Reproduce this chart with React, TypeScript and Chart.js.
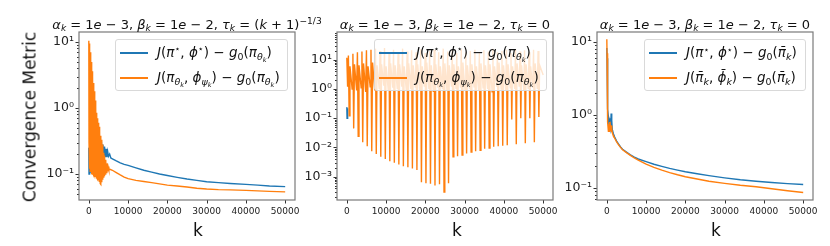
import React, { useEffect, useRef } from 'react';
import { Chart, registerables } from 'chart.js';

Chart.register(...registerables);
Chart.defaults.font.family = "'DejaVu Sans', sans-serif";

const BLUE = '#1f77b4';
const ORANGE = '#ff7f0e';

// ---------- shared x axis ----------
const xTickValues = [0, 10000, 20000, 30000, 40000, 50000];

// ---------- panel 1 : tau_k = (k+1)^(-1/3) ----------
const p1BlueK = [
  0, 50, 100, 150, 200, 250, 300, 400, 500, 600, 700, 800, 900, 1000,
  1200, 1400, 1600, 1800, 2000, 2200, 2400, 2600, 2800, 3000, 3200, 3400,
  3600, 3800, 4000, 4200, 4400, 4600, 4800, 5000, 5300, 5600, 6000, 7000,
  8000, 9000, 10000, 12000, 14000, 16000, 18000, 20000, 22500, 25000,
  27500, 30000, 33000, 36000, 40000, 43000, 46000, 49999,
];
const p1Blue = [
  0.25, 0.1, 0.26, 0.1, 0.22, 0.1, 0.24, 0.11, 0.25, 0.105, 0.24, 0.11, 0.25, 0.11,
  0.26, 0.12, 0.27, 0.12, 0.28, 0.13, 0.29, 0.13, 0.3, 0.15, 0.31, 0.16,
  0.28, 0.17, 0.26, 0.18, 0.24, 0.18, 0.22, 0.185, 0.2, 0.175, 0.17, 0.158,
  0.148, 0.14, 0.135, 0.124, 0.114, 0.107, 0.1, 0.095, 0.089, 0.084,
  0.08, 0.0765, 0.074, 0.072, 0.0697, 0.068, 0.066, 0.0645,
];
const p1OrangeK = [
  0, 50, 100, 150, 200, 250, 300, 350, 400, 450, 500, 550, 600, 650, 700, 750,
  800, 850, 900, 950, 1000, 1100, 1200, 1300, 1400, 1500, 1600, 1700, 1800,
  1900, 2000, 2100, 2200, 2300, 2400, 2500, 2600, 2700, 2800, 2900, 3000,
  3100, 3200, 3300, 3400, 3500, 3600, 3700, 3800, 3900, 4000, 4150, 4300,
  4450, 4600, 4750, 4900, 5100, 5400, 6000, 7000, 8000, 9000, 10000, 12000,
  14000, 16000, 18000, 20000, 22500, 25000, 27500, 30000, 33000, 36000,
  40000, 43000, 46000, 49999,
];
const p1Orange = [
  10.5, 0.3, 9.5, 0.15, 8.8, 0.12, 8.0, 0.11, 7.0, 0.12, 5.5, 0.11, 5.0, 0.1, 4.6, 0.11,
  4.2, 0.1, 3.6, 0.1, 3.0, 0.1, 2.4, 0.095, 1.8, 0.09, 1.3, 0.09, 1.05,
  0.088, 0.85, 0.085, 0.7, 0.082, 0.6, 0.08, 0.52, 0.076, 0.45, 0.072, 0.38,
  0.07, 0.33, 0.075, 0.28, 0.082, 0.24, 0.09, 0.21, 0.095, 0.19, 0.1, 0.165,
  0.105, 0.145, 0.11, 0.13, 0.115, 0.118, 0.114, 0.105, 0.097, 0.09, 0.085, 0.08,
  0.077, 0.074, 0.071, 0.068, 0.066, 0.0635, 0.061, 0.0593, 0.058, 0.0575,
  0.0566, 0.0555, 0.0545, 0.0537,
];
const p1YMin = 0.0404;
const p1YMax = 14.2;
const p1YTicks = [
  0.05, 0.06, 0.07, 0.08, 0.09, 0.1, 0.2, 0.3, 0.4, 0.5, 0.6, 0.7, 0.8, 0.9,
  1, 2, 3, 4, 5, 6, 7, 8, 9, 10,
];
const p1MajorValues = [0.1, 1, 10];
const p1MajorLabels = ['10⁻¹', '10⁰', '10¹'];

// ---------- panel 2 : tau_k = 0 (last iterate) ----------
const p2BlueK = [0, 60, 120, 180, 240, 300];
const p2Blue = [0.24, 0.1, 0.22, 0.11, 0.2, 0.12];
const p2OrangeK = [
  0, 200, 400, 600, 800,
  1350, 1550, 1750, 1950,
  2500, 2700, 2900, 3100,
  3650, 3850, 4050, 4250,
  4800, 5000, 5200, 5400,
  5950, 6150, 6350, 6550,
  7100, 7300, 7500, 7700,
  8250, 8450, 8650, 8850,
  9400, 9600, 9800, 10000,
  10550, 10750, 10950, 11150,
  11700, 11900, 12100, 12300,
  12850, 13050, 13250, 13450,
  14000, 14200, 14400, 14600,
  15150, 15350, 15550, 15750,
  16300, 16500, 16700, 16900,
  17450, 17650, 17850, 18050,
  18600, 18800, 19000, 19200,
  19750, 19950, 20150, 20350,
  20900, 21100, 21300, 21500,
  22050, 22250, 22450, 22650,
  23200, 23400, 23600, 23800,
  24350, 24550, 24750, 24950,
  25500, 25700, 25900, 26100,
  26650, 26850, 27050, 27250,
  27800, 28000, 28200, 28400,
  28950, 29150, 29350, 29550,
  30100, 30300, 30500, 30700,
  31250, 31450, 31650, 31850,
  32400, 32600, 32800, 33000,
  33550, 33750, 33950, 34150,
  34700, 34900, 35100, 35300,
  35850, 36050, 36250, 36450,
  37000, 37200, 37400, 37600,
  38150, 38350, 38550, 38750,
  39300, 39500, 39700, 39900,
  40450, 40650, 40850, 41050,
  41600, 41800, 42000, 42200,
  42750, 42950, 43150, 43350,
  43900, 44100, 44300, 44500,
  45050, 45250, 45450, 45650,
  46200, 46400, 46600, 46800,
  47350, 47550, 47750, 47950,
  48500, 48700, 48900, 49100,
  49999,
];
const p2Orange = [
  11.7, 1.2, 14, 0.12, 6,
  1.0, 16, 0.045, 7,
  0.9, 18, 0.024, 6.5,
  1.1, 19, 0.015, 7.5,
  0.8, 21, 0.011, 6,
  1.2, 22, 0.0075, 8,
  0.9, 24, 0.006, 6.5,
  1.0, 20, 0.0048, 7,
  1.3, 25, 0.004, 6,
  0.9, 18, 0.0034, 7.5,
  1.1, 22, 0.003, 6.5,
  1.0, 17, 0.0026, 7,
  1.2, 24, 0.0023, 6,
  0.9, 19, 0.0021, 7.5,
  1.0, 21, 0.0019, 6.5,
  1.1, 18, 0.0017, 7,
  0.9, 23, 0.00065, 6,
  1.2, 17, 0.0006, 8,
  1.0, 20, 0.00058, 6.5,
  0.8, 22, 0.0005, 7,
  1.1, 18, 0.00055, 6,
  1.0, 24, 0.0003, 7.5,
  0.9, 19, 0.0006, 6.5,
  1.2, 21, 0.0048, 7,
  1.0, 17, 0.005, 6,
  1.1, 23, 0.0055, 8,
  0.9, 18, 0.0062, 6.5,
  1.0, 20, 0.007, 7,
  1.2, 22, 0.0075, 6,
  0.9, 17, 0.008, 7.5,
  1.1, 21, 0.009, 6.5,
  1.0, 19, 0.0095, 7,
  0.8, 24, 0.0105, 6,
  1.2, 18, 0.011, 8,
  1.0, 20, 0.0115, 6.5,
  0.9, 22, 0.012, 7,
  1.1, 17, 0.09, 6,
  1.0, 23, 0.013, 7.5,
  1.2, 19, 0.1, 6.5,
  0.9, 21, 0.014, 7,
  1.0, 18, 0.1, 6,
  1.1, 22, 0.015, 7.5,
  1.0, 20, 0.11, 6.5,
  3,
];
const p2YMin = 1.6e-4;
const p2YMax = 88.9;
const p2YTicks = [
  0.0002, 0.0003, 0.0004, 0.0005, 0.0006, 0.0007, 0.0008, 0.0009,
  0.001, 0.002, 0.003, 0.004, 0.005, 0.006, 0.007, 0.008, 0.009,
  0.01, 0.02, 0.03, 0.04, 0.05, 0.06, 0.07, 0.08, 0.09,
  0.1, 0.2, 0.3, 0.4, 0.5, 0.6, 0.7, 0.8, 0.9,
  1, 2, 3, 4, 5, 6, 7, 8, 9,
  10, 20, 30, 40, 50, 60, 70, 80,
];
const p2MajorValues = [0.001, 0.01, 0.1, 1, 10];
const p2MajorLabels = ['10⁻³', '10⁻²', '10⁻¹', '10⁰', '10¹'];

// ---------- panel 3 : tau_k = 0 (averaged iterate) ----------
const p3K = [
  0, 50, 100, 150, 200, 250, 300, 400, 500, 600, 700, 800, 900, 1000, 1100,
  1200, 1300, 1400, 1500, 1700, 2000, 2500, 3000, 3500, 4000, 5000, 6000,
  7000, 8000, 10000, 12000, 14000, 16000, 18000, 20000, 23000, 26000, 30000,
  34000, 38000, 42000, 46000, 49999,
];
const p3Blue = [
  8.3, 6, 4, 2.8, 2.0, 1.5, 1.2, 0.95, 0.8, 0.7, 0.9, 0.65, 0.85, 0.7, 1.05,
  0.75, 0.85, 0.62, 0.6, 0.55, 0.5, 0.44, 0.4, 0.365, 0.34, 0.31, 0.285,
  0.265, 0.25, 0.23, 0.212, 0.198, 0.186, 0.176, 0.167, 0.157, 0.148, 0.138,
  0.13, 0.124, 0.119, 0.115, 0.112,
];
const p3Orange = [
  10.9, 7, 4, 2.5, 1.6, 1.1, 0.8, 0.6, 0.75, 0.6, 0.8, 0.62, 0.7, 0.6, 0.72,
  0.58, 0.65, 0.57, 0.55, 0.52, 0.48, 0.43, 0.39, 0.36, 0.335, 0.305, 0.28,
  0.258, 0.242, 0.213, 0.192, 0.176, 0.163, 0.152, 0.143, 0.133, 0.124, 0.116,
  0.109, 0.104, 0.098, 0.092, 0.087,
];
const p3YMin = 0.0686;
const p3YMax = 13.7;
const p3YTicks = [
  0.07, 0.08, 0.09, 0.1, 0.2, 0.3, 0.4, 0.5, 0.6, 0.7, 0.8, 0.9,
  1, 2, 3, 4, 5, 6, 7, 8, 9, 10,
];
const p3MajorValues = [0.1, 1, 10];
const p3MajorLabels = ['10⁻¹', '10⁰', '10¹'];

// ---------- helpers ----------
const toXY = (ks: number[], vs: number[]) => ks.map((k, i) => ({ x: k, y: vs[i] }));
const isMajor = (v: number, majors: number[]) => majors.some((m) => Math.abs(v - m) / m < 1e-6);

const mplFrame = {
  id: 'mplFrame',
  afterDatasetsDraw(chart: any, _args: any, opts: any) {
    const { ctx, chartArea: a, scales } = chart;
    const majors: number[] = opts.majors || [];
    ctx.save();
    ctx.strokeStyle = '#333';
    ctx.lineWidth = 1;
    ctx.beginPath();
    const xs = scales.x;
    for (const t of xs.ticks) {
      const px = Math.round(xs.getPixelForValue(t.value)) + 0.5;
      ctx.moveTo(px, a.bottom);
      ctx.lineTo(px, a.bottom + 3.5);
    }
    const ys = scales.y;
    for (const t of ys.ticks) {
      const py = Math.round(ys.getPixelForValue(t.value)) + 0.5;
      const len = isMajor(t.value, majors) ? 3.5 : 2;
      ctx.moveTo(a.left, py);
      ctx.lineTo(a.left - len, py);
    }
    ctx.stroke();
    ctx.strokeStyle = '#7a7a7a';
    ctx.lineWidth = 1.2;
    ctx.strokeRect(a.left, a.top, a.right - a.left, a.bottom - a.top);
    ctx.restore();
  },
};

type PanelProps = {
  datasets: any[];
  yMin: number;
  yMax: number;
  yTicks: number[];
  majors: number[];
  majorLabels: string[];
  padLeft: number;
  padRight: number;
  yWidth: number;
};

function Panel(p: PanelProps) {
  const ref = useRef<HTMLCanvasElement | null>(null);
  useEffect(() => {
    if (!ref.current) return;
    const chart = new Chart(ref.current, {
      type: 'line',
      data: { datasets: p.datasets },
      plugins: [mplFrame],
      options: {
        animation: false,
        responsive: false,
        maintainAspectRatio: false,
        layout: { padding: { left: p.padLeft, right: p.padRight, top: 32, bottom: 0 } },
        elements: { point: { radius: 0 }, line: { tension: 0 } },
        plugins: {
          legend: { display: false },
          tooltip: { enabled: false },
          mplFrame: { majors: p.majors },
        } as any,
        scales: {
          x: {
            type: 'linear',
            min: -2500,
            max: 52500,
            grid: { display: false, drawTicks: false },
            border: { display: false },
            afterBuildTicks: (s: any) => {
              s.ticks = xTickValues.map((v) => ({ value: v }));
            },
            afterFit: (s: any) => {
              s.height = 46;
            },
            ticks: {
              autoSkip: false,
              maxRotation: 0,
              minRotation: 0,
              padding: 6,
              color: '#222',
              font: { size: 9 },
              callback: (v: any) => String(v),
            },
          },
          y: {
            type: 'logarithmic',
            min: p.yMin,
            max: p.yMax,
            grid: { display: false, drawTicks: false },
            border: { display: false },
            afterBuildTicks: (s: any) => {
              s.ticks = p.yTicks.map((v) => ({ value: v }));
            },
            afterFit: (s: any) => {
              s.width = p.yWidth;
            },
            ticks: {
              autoSkip: false,
              padding: 5,
              color: '#222',
              font: { size: 12.5 },
              callback: (v: any) => {
                const i = p.majors.findIndex((m) => Math.abs(Number(v) - m) / m < 1e-6);
                return i >= 0 ? p.majorLabels[i] : '';
              },
            },
          },
        },
      } as any,
    });
    return () => chart.destroy();
  }, []);
  return (
    <canvas
      ref={ref}
      width={830}
      height={246}
      style={{ position: 'absolute', left: 0, top: 0, width: 830, height: 246 }}
    />
  );
}

const I = ({ children }: { children: React.ReactNode }) => (
  <span style={{ fontStyle: 'italic' }}>{children}</span>
);
const Sub = ({ children }: { children: React.ReactNode }) => (
  <span style={{ fontSize: '70%', verticalAlign: '-0.3em', lineHeight: 0 }}>{children}</span>
);
const Sup = ({ children }: { children: React.ReactNode }) => (
  <span style={{ fontSize: '70%', verticalAlign: '0.5em', lineHeight: 0 }}>{children}</span>
);

const piTheta = (
  <>
    <I>π</I>
    <Sub>
      <I>θ</I>
      <Sub>
        <I>k</I>
      </Sub>
    </Sub>
  </>
);
const phiPsi = (
  <>
    <I>ϕ</I>
    <Sub>
      <I>ψ</I>
      <Sub>
        <I>k</I>
      </Sub>
    </Sub>
  </>
);
const piBar = (
  <>
    <I>π̄</I>
    <Sub>
      <I>k</I>
    </Sub>
  </>
);
const phiBar = (
  <>
    <I>ϕ̄</I>
    <Sub>
      <I>k</I>
    </Sub>
  </>
);
const jStar = (
  <>
    <I>J</I>(<I>π</I>
    <Sup>⋆</Sup>, <I>ϕ</I>
    <Sup>⋆</Sup>)
  </>
);
const g0 = (
  <>
    <I>g</I>
    <Sub>0</Sub>
  </>
);

const legend1 = [
  { color: BLUE, label: <>{jStar} − {g0}({piTheta})</> },
  { color: ORANGE, label: <><I>J</I>({piTheta}, {phiPsi}) − {g0}({piTheta})</> },
];
const legend3 = [
  { color: BLUE, label: <>{jStar} − {g0}({piBar})</> },
  { color: ORANGE, label: <><I>J</I>({piBar}, {phiBar}) − {g0}({piBar})</> },
];

const titleCommon = (
  <>
    <I>α</I>
    <Sub>
      <I>k</I>
    </Sub>{' '}
    = 1<I>e</I> − 3, <I>β</I>
    <Sub>
      <I>k</I>
    </Sub>{' '}
    = 1<I>e</I> − 2, <I>τ</I>
    <Sub>
      <I>k</I>
    </Sub>{' '}
    ={' '}
  </>
);

function Legend({ left, top, width, items }: { left: number; top: number; width: number; items: any[] }) {
  const rows = [12, 37];
  return (
    <div
      style={{
        position: 'absolute',
        left,
        top,
        width,
        height: 52,
        boxSizing: 'border-box',
        border: '1px solid #d9d9d9',
        borderRadius: 3,
        background: 'rgba(255,255,255,0.8)',
      }}
    >
      {items.map((it, i) => (
        <React.Fragment key={i}>
          <div
            style={{
              position: 'absolute',
              left: 4,
              top: rows[i],
              width: 28,
              height: 1.5,
              background: it.color,
            }}
          />
          <div
            style={{
              position: 'absolute',
              left: 41,
              top: rows[i] + 1,
              transform: 'translateY(-50%)',
              whiteSpace: 'nowrap',
              fontSize: 13.5,
              lineHeight: 1,
              color: '#111',
            }}
          >
            {it.label}
          </div>
        </React.Fragment>
      ))}
    </div>
  );
}

function Text({ cx, cy, size, children, rotate }: { cx: number; cy: number; size: number; children: React.ReactNode; rotate?: boolean }) {
  return (
    <div
      style={{
        position: 'absolute',
        left: cx,
        top: cy,
        transform: `translate(-50%, -50%)${rotate ? ' rotate(-90deg)' : ''}`,
        whiteSpace: 'nowrap',
        fontSize: size,
        lineHeight: 1,
        color: '#111',
      }}
    >
      {children}
    </div>
  );
}

export default function App() {
  return (
    <div
      style={{
        position: 'absolute',
        left: 0,
        top: 0,
        width: 830,
        height: 246,
        background: '#fff',
        overflow: 'hidden',
        fontFamily: "'DejaVu Sans', sans-serif",
      }}
    >
      <Panel
        datasets={[
          { label: 'blue', data: toXY(p1BlueK, p1Blue), borderColor: BLUE, borderWidth: 1.4, order: 2 },
          { label: 'orange', data: toXY(p1OrangeK, p1Orange), borderColor: ORANGE, borderWidth: 1.4, order: 1 },
        ]}
        yMin={p1YMin}
        yMax={p1YMax}
        yTicks={p1YTicks}
        majors={p1MajorValues}
        majorLabels={p1MajorLabels}
        padLeft={0}
        padRight={535}
        yWidth={79}
      />
      <Panel
        datasets={[
          { label: 'blue', data: toXY(p2BlueK, p2Blue), borderColor: BLUE, borderWidth: 1.4, order: 2 },
          { label: 'orange', data: toXY(p2OrangeK, p2Orange), borderColor: ORANGE, borderWidth: 1.4, order: 1 },
        ]}
        yMin={p2YMin}
        yMax={p2YMax}
        yTicks={p2YTicks}
        majors={p2MajorValues}
        majorLabels={p2MajorLabels}
        padLeft={297}
        padRight={277}
        yWidth={40}
      />
      <Panel
        datasets={[
          { label: 'blue', data: toXY(p3K, p3Blue), borderColor: BLUE, borderWidth: 1.4, order: 2 },
          { label: 'orange', data: toXY(p3K, p3Orange), borderColor: ORANGE, borderWidth: 1.4, order: 1 },
        ]}
        yMin={p3YMin}
        yMax={p3YMax}
        yTicks={p3YTicks}
        majors={p3MajorValues}
        majorLabels={p3MajorLabels}
        padLeft={557}
        padRight={17}
        yWidth={40}
      />

      <Text cx={187} cy={24} size={13}>
        {titleCommon}(<I>k</I> + 1)<Sup>−1/3</Sup>
      </Text>
      <Text cx={445} cy={24} size={13}>
        {titleCommon}0
      </Text>
      <Text cx={705} cy={24} size={13}>
        {titleCommon}0
      </Text>

      <Text cx={30} cy={117} size={17} rotate>
        Convergence Metric
      </Text>
      <Text cx={198} cy={230} size={17}>
        k
      </Text>
      <Text cx={457} cy={230} size={17}>
        k
      </Text>
      <Text cx={716} cy={230} size={17}>
        k
      </Text>

      <Legend left={115} top={39} width={173} items={legend1} />
      <Legend left={374} top={39} width={173} items={legend1} />
      <Legend left={644} top={39} width={162} items={legend3} />
    </div>
  );
}
